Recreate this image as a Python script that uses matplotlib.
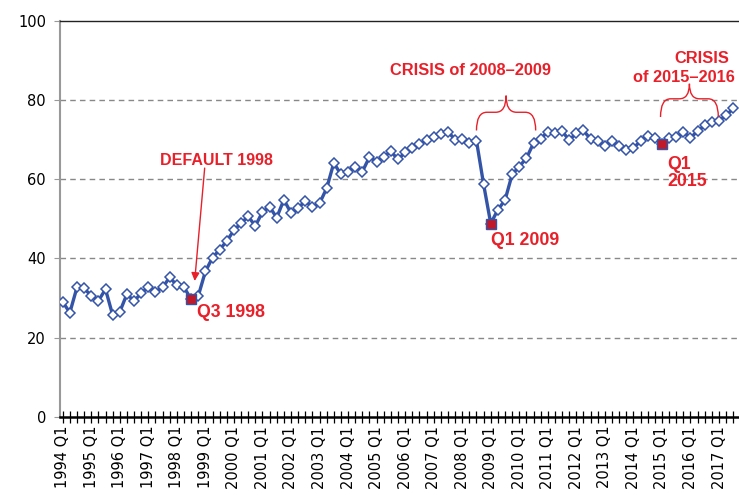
import matplotlib.pyplot as plt
from matplotlib.path import Path
from matplotlib.patches import PathPatch

# quarterly index values, 1994 Q1 .. 2017 Q3
values = [29.0, 26.3, 32.7, 32.4, 30.6, 29.3, 32.2, 25.7, 26.5, 31.0,
          29.2, 31.2, 32.7, 31.6, 32.7, 35.2, 33.2, 32.7, 29.7, 30.5,
          36.7, 40.2, 42.2, 44.4, 47.1, 48.9, 50.6, 48.2, 51.7, 53.0,
          50.3, 54.8, 51.5, 52.6, 54.6, 52.9, 53.9, 57.7, 64.1, 61.2,
          61.9, 63.1, 61.9, 65.6, 64.4, 65.7, 67.0, 65.0, 66.8, 67.9,
          68.8, 69.8, 70.6, 71.5, 72.0, 70.0, 70.2, 69.1, 69.7, 58.7,
          48.8, 52.3, 54.7, 61.2, 63.2, 65.3, 69.1, 70.2, 72.0, 71.6,
          72.1, 69.9, 71.6, 72.3, 70.1, 69.6, 68.5, 69.6, 68.3, 67.4,
          67.9, 69.6, 71.0, 70.5, 68.8, 70.5, 70.6, 71.9, 70.5, 72.1,
          73.6, 74.4, 74.8, 76.1, 77.9]
first_year = 1994
highlight = [18, 60, 84]  # Q3 1998, Q1 2009, Q1 2015

BLUE = '#3454a8'
RED = '#e8202a'
DARKRED = '#c01a2a'

x = list(range(len(values)))
year_ticks = [i for i in x if i % 4 == 0]
year_labels = [f'{first_year + i // 4} Q1' for i in year_ticks]

fig = plt.figure(figsize=(7.39, 4.95), dpi=100)
ax = fig.add_axes([0.081, 0.158, 0.919, 0.800])

ax.plot(x, values, color=BLUE, lw=2.4, marker='D', ms=5.6,
        mfc='white', mec=BLUE, mew=1.1, zorder=3)
ax.plot([x[i] for i in highlight], [values[i] for i in highlight], 's',
        ms=7.5, mfc=DARKRED, mec=BLUE, mew=1, zorder=4)

ax.set_xlim(-0.4, len(values) - 0.2)
ax.set_ylim(0, 100)
ax.set_yticks(range(0, 101, 20))
for yv in (20, 40, 60, 80):
    ax.axhline(yv, color='#888888', lw=1, ls=(0, (4, 3)), zorder=1)

ax.set_xticks(year_ticks)
ax.set_xticklabels(year_labels, rotation=90, fontsize=10.5)
ax.set_xticks(x, minor=True)
ax.tick_params(axis='x', which='both', direction='inout', length=9, width=0.9,
               color='black', pad=2)
ax.tick_params(axis='y', length=4, color='#999999', labelsize=10.5, pad=6)

ax.spines['right'].set_visible(False)
ax.spines['left'].set_color('#999999')
ax.spines['left'].set_linewidth(1.5)
ax.spines['bottom'].set_linewidth(1.8)
ax.spines['top'].set_color('#222222')
ax.spines['top'].set_linewidth(1)


def brace(x0, x1, yb, yh, yt):
    xm = (x0 + x1) / 2
    d = (xm - x0) * 0.35
    verts = [(x0, yb), (x0, yh), (x0 + d, yh),
             (xm - d, yh),
             (xm, yh), (xm, yt),
             (xm, yh), (xm + d, yh),
             (x1 - d, yh),
             (x1, yh), (x1, yb)]
    codes = [Path.MOVETO, Path.CURVE3, Path.CURVE3,
             Path.LINETO,
             Path.CURVE3, Path.CURVE3,
             Path.CURVE3, Path.CURVE3,
             Path.LINETO,
             Path.CURVE3, Path.CURVE3]
    ax.add_patch(PathPatch(Path(verts, codes), fc='none', ec=RED, lw=1,
                           clip_on=False, zorder=5))


brace(58.0, 66.3, 72.3, 76.9, 81.1)
brace(83.8, 91.9, 75.7, 80.3, 84.1)

font = dict(family=['Liberation Sans', 'DejaVu Sans'], weight='bold', color=RED)
ax.annotate('', xy=(18.5, 34.3), xytext=(19.9, 62.8),
            arrowprops=dict(arrowstyle='-|>', color=RED, lw=1,
                            mutation_scale=12, shrinkA=0, shrinkB=0))
ax.text(21.5, 64.7, 'DEFAULT 1998', ha='center', va='center', fontsize=11.5, **font)
ax.text(18.8, 26.4, 'Q3 1998', ha='left', va='center', fontsize=12.8, **font)
ax.text(60.0, 44.6, 'Q1 2009', ha='left', va='center', fontsize=12.8, **font)
ax.text(57.2, 87.4, 'CRISIS of 2008–2009', ha='center', va='center', fontsize=11.8, **font)
ax.text(89.6, 90.4, 'CRISIS', ha='center', va='center', fontsize=11.8, **font)
ax.text(87.1, 85.6, 'of 2015–2016', ha='center', va='center', fontsize=11.8, **font)
ax.text(84.8, 61.6, 'Q1\n2015', ha='left', va='center', fontsize=12.8,
        linespacing=1.0, **font)

fig.savefig('out.png', dpi=100)
